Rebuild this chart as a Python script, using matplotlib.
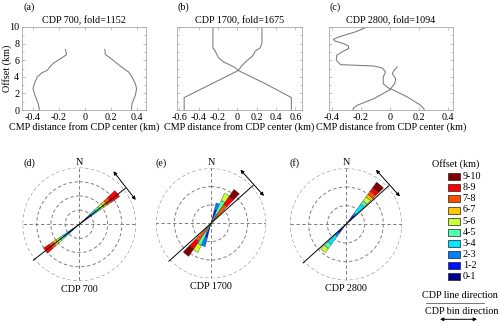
import numpy as np
import matplotlib
matplotlib.use('Agg')
import matplotlib.pyplot as plt
from matplotlib.ticker import MultipleLocator, FuncFormatter
from matplotlib.patches import Rectangle
from matplotlib.lines import Line2D

plt.rcParams['font.family'] = ['Liberation Serif', 'DejaVu Serif']
plt.rcParams['axes.unicode_minus'] = False
FS = 7.3

# ---------------- top panels: offset vs CMP distance ----------------
a_title = "CDP 700, fold=1152"
a_off_L = [0, 0.76, 1.77, 2.57, 3.17, 3.98, 4.5, 4.78, 5.3, 5.7, 6.3, 6.67, 7.3]
a_x_L = [-0.35, -0.36, -0.385, -0.40, -0.39, -0.367, -0.33, -0.29, -0.264, -0.238, -0.175, -0.141, -0.149]
a_off_R = [0, 0.76, 1.77, 2.57, 3.17, 3.98, 4.58, 5.0, 5.6, 6.4, 6.67, 7.3]
a_x_R = [0.36, 0.364, 0.39, 0.40, 0.39, 0.364, 0.338, 0.30, 0.249, 0.185, 0.159, 0.154]

b_title = "CDP 1700, fold=1675"
b_off_L = [0, 1.5, 3.17, 4.76, 5.1, 5.4, 5.8, 6.3, 6.67, 7.1, 7.5, 10]
b_x_L = [-0.548, -0.548, -0.262, 0.01, -0.021, -0.072, -0.142, -0.193, -0.21, -0.228, -0.251, -0.251]
b_off_R = [0, 1.5, 3.17, 4.76, 5.36, 5.95, 6.5, 7.1, 7.5, 8.1, 10]
b_x_R = [0.558, 0.558, 0.29, 0.01, 0.049, 0.1, 0.158, 0.186, 0.238, 0.255, 0.255]

c_title = "CDP 2800, fold=1094"
c_off_L = [0, 0.24, 0.56, 1.37, 2.49, 2.77, 3.17, 3.98, 4.58, 5.06, 5.3, 5.4, 5.46,
           6.0, 6.6, 7.0, 7.4, 7.7, 8.0, 8.3, 8.5, 8.8, 9.4, 10.0]
c_x_L = [-0.255, -0.25, -0.227, -0.11, 0.005, -0.019, -0.046, -0.046, -0.03, -0.053, -0.11, -0.25, -0.34,
         -0.37, -0.366, -0.33, -0.285, -0.285, -0.32, -0.377, -0.39, -0.354, -0.24, -0.158]
c_off_R = [0, 0.1, 0.56, 1.57, 2.57, 3.17, 3.78, 4.38, 4.77, 5.18]
c_x_R = [0.236, 0.236, 0.213, 0.12, 0.005, 0.033, 0.04, 0.016, 0.028, 0.05]

# ---------------- rose diagrams ----------------
offset_classes = ['0-1', '1-2', '2-3', '3-4', '4-5', '5-6', '6-7', '7-8', '8-9', '9-10']
class_colors = ['#00008f', '#0010ff', '#0080ff', '#00e8ff', '#50ffb0',
                '#c8ff38', '#ffc800', '#ff5000', '#ff0000', '#7f0000']

d_label = "CDP 700"
d_azimuth = [51, 232]
d_counts = [[53, 53, 53, 63, 53, 42, 42, 53, 106, 0],
            [53, 42, 53, 53, 53, 42, 42, 42, 74, 0]]
d_line_az = 52

e_label = "CDP 1700"
e_azimuth = [19, 29, 39, 199, 209, 219]
e_counts = [[55, 98, 76, 0, 0, 0, 0, 0, 0, 0],
            [0, 0, 0, 109, 164, 87, 0, 0, 0, 0],
            [0, 0, 0, 0, 0, 0, 65, 185, 98, 98],
            [55, 109, 98, 0, 0, 0, 0, 0, 0, 0],
            [0, 0, 0, 109, 153, 87, 0, 0, 0, 0],
            [0, 0, 0, 0, 0, 0, 65, 174, 98, 98]]
e_line_az = 48

f_label = "CDP 2800"
f_azimuth = [41, 221]
f_counts = [[64, 54, 32, 118, 43, 54, 32, 43, 43, 75],
            [64, 54, 43, 107, 54, 54, 0, 0, 0, 0]]
f_line_az = 48

W, H = 500.0, 326.0
fig = plt.figure(figsize=(W / 100, H / 100), dpi=100)


def px_axes(l, t, r, b, **kw):
    return fig.add_axes([l / W, 1 - b / H, (r - l) / W, (b - t) / H], **kw)


def fmt(v, pos):
    s = '%g' % round(v, 3)
    return '0' if s in ('-0', '0') else s


curve_color = '#7a7a7a'
frame_color = '#a8a8a8'


def profile(ax, title, xl, yl, xr, yr, xlim, xticks, panel, ylabel=False):
    ax.plot(xl, yl, color=curve_color, lw=0.75)
    ax.plot(xr, yr, color=curve_color, lw=0.75)
    ax.set_xlim(*xlim)
    ax.set_ylim(0, 10)
    ax.set_xticks(xticks)
    ax.xaxis.set_major_formatter(FuncFormatter(fmt))
    ax.yaxis.set_major_locator(MultipleLocator(2))
    ax.yaxis.set_minor_locator(MultipleLocator(1))
    ax.tick_params(which='both', direction='in', top=True, right=True,
                   color=frame_color, width=0.5, labelsize=FS, pad=2)
    ax.tick_params(which='major', length=2.5)
    ax.tick_params(which='minor', length=1.5)
    for s in ax.spines.values():
        s.set_color(frame_color)
        s.set_linewidth(0.6)
    ax.set_title(title, fontsize=FS, pad=3)
    ax.set_xlabel('CMP distance from CDP center (km)', fontsize=FS, labelpad=0)
    if ylabel:
        ax.set_ylabel('Offset (km)', fontsize=FS)
        ax.yaxis.set_label_coords(-10.0 / 123.7, 0.5)
    else:
        ax.set_yticklabels([])
    pos = ax.get_position()
    fig.text(pos.x0 + 0.002, 1 - 7 / H, panel, fontsize=FS, ha='left', va='center')


ax_a = px_axes(22, 27, 145.7, 110)
profile(ax_a, a_title, a_x_L, a_off_L, a_x_R, a_off_R, (-0.485, 0.47),
        [-0.4, -0.2, 0, 0.2, 0.4], '(a)', ylabel=True)
ax_b = px_axes(176.7, 27, 301.7, 110)
profile(ax_b, b_title, b_x_L, b_off_L, b_x_R, b_off_R, (-0.625, 0.665),
        [-0.6, -0.4, -0.2, 0, 0.2, 0.4, 0.6], '(b)')
ax_c = px_axes(329, 27, 453, 110)
profile(ax_c, c_title, c_x_L, c_off_L, c_x_R, c_off_R, (-0.42, 0.435),
        [-0.4, -0.2, 0, 0.2, 0.4], '(c)')


def rose(cx, cy, rad, azimuth, counts, width_deg, rticks, line_az, label, panel, panel_x):
    ax = px_axes(cx - rad, cy - rad, cx + rad, cy + rad, projection='polar')
    ax.set_theta_zero_location('N')
    ax.set_theta_direction(-1)
    rmax = rticks[-1]
    for az, row in zip(azimuth, counts):
        th = np.deg2rad(az)
        bottom = 0
        for k, c in enumerate(row):
            if c <= 0:
                continue
            ax.bar(th, c, width=np.deg2rad(width_deg), bottom=bottom,
                   color=class_colors[k], edgecolor='#303030', linewidth=0.25, zorder=3)
            bottom += c
    ax.set_rlim(0, rmax)
    ax.set_rgrids(rticks, labels=[''] * len(rticks))
    ax.set_thetagrids([0, 90, 180, 270], labels=['', '', '', ''])
    ax.grid(True, color='#808080', linestyle=(0, (3.5, 2.5)), linewidth=0.7)
    ax.spines['polar'].set_visible(False)
    ax.set_facecolor('none')
    # CDP line direction
    th = np.deg2rad(line_az)
    L = 1.03 * rmax
    ax.plot([th + np.pi, th + np.pi, th, th], [L, 0, 0, L], color='k', lw=0.7,
            clip_on=False, zorder=4)
    # CDP bin direction arrow (placed in figure pixels, perpendicular to the line)
    ca = np.deg2rad(line_az - 2.5)
    Rp = 1.05 * rad
    mx, my = cx + Rp * np.sin(ca), cy - Rp * np.cos(ca)   # top-left pixel coords
    p = np.deg2rad(line_az + 90)
    hp = 0.32 * rad
    x1, y1 = mx + hp * np.sin(p), my - hp * np.cos(p)
    x2, y2 = mx - hp * np.sin(p), my + hp * np.cos(p)
    fig.add_artist(plt.Annotation('', xy=(x1 / W, 1 - y1 / H), xytext=(x2 / W, 1 - y2 / H),
                                  xycoords='figure fraction', textcoords='figure fraction',
                                  arrowprops=dict(arrowstyle='<|-|>', color='k', lw=0.7,
                                                  mutation_scale=5, shrinkA=0, shrinkB=0)))
    ax.text(0.5, -0.075, label, transform=ax.transAxes, ha='center', va='center', fontsize=FS)
    fig.text(cx / W, 1 - (cy - rad - 5.5) / H, 'N', fontsize=FS, ha='center', va='center')
    fig.text(panel_x / W, 1 - 163.3 / H, panel, fontsize=FS, ha='left', va='center')
    return ax


rose(79.3, 224.3, 56.7, d_azimuth, d_counts, 9, [150, 300, 450, 600], d_line_az, d_label, '(d)', 23)
rose(211.0, 223.3, 55.0, e_azimuth, e_counts, 10, [200, 400, 600], e_line_az, e_label, '(e)', 155)
rose(346.0, 224.3, 56.0, f_azimuth, f_counts, 10, [200, 400, 600], f_line_az, f_label, '(f)', 290)

# ---------------- legend ----------------
fig.text(455.5 / W, 1 - 164.3 / H, 'Offset (km)', fontsize=FS, ha='center', va='center')
for i, k in enumerate(range(len(offset_classes) - 1, -1, -1)):
    yc = 176.7 + i * 11.1
    fig.add_artist(Rectangle((448.3 / W, 1 - (yc + 3.5) / H), 11.7 / W, 7 / H,
                             transform=fig.transFigure, facecolor=class_colors[k],
                             edgecolor='#202020', linewidth=0.5))
    fig.text(462.7 / W, 1 - yc / H, offset_classes[k], fontsize=FS, ha='left', va='center')

fig.text(460 / W, 1 - 296 / H, 'CDP line direction', fontsize=FS, ha='center', va='center')
fig.add_artist(Line2D([426 / W, 484 / W], [1 - 302.7 / H, 1 - 302.7 / H],
                      transform=fig.transFigure, color='#606060', lw=0.6))
fig.text(462 / W, 1 - 311 / H, 'CDP bin direction', fontsize=FS, ha='center', va='center')
fig.add_artist(plt.Annotation('', xy=(477 / W, 1 - 319.3 / H), xytext=(440 / W, 1 - 319.3 / H),
                              xycoords='figure fraction', textcoords='figure fraction',
                              arrowprops=dict(arrowstyle='<|-|>', color='k', lw=0.7,
                                              mutation_scale=5, shrinkA=0, shrinkB=0)))

fig.savefig('out.png', dpi=100)
